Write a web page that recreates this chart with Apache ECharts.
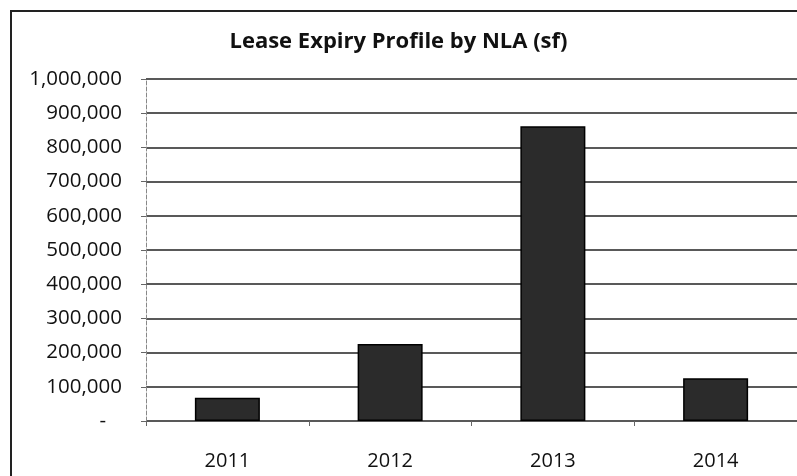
<!DOCTYPE html>
<html>
<head>
<meta charset="utf-8">
<script src="https://cdn.jsdelivr.net/npm/echarts@6/dist/echarts.min.js"></script>
<style>
  html, body { margin: 0; padding: 0; background: #fff; }
  #chart { width: 797px; height: 476px; }
</style>
</head>
<body>
<div id="chart"></div>
<script>
// 数据
const years = ['2011', '2012', '2013', '2014']
const nla = [68000, 225000, 862000, 125000]
const yTicks = [0, 100000, 200000, 300000, 400000, 500000, 600000, 700000, 800000, 900000, 1000000]

const font = '"Open Sans", "Noto Sans", sans-serif'

// 0 显示为 "-"（会计格式）
function fmt(v) {
    if (v === 0) return '-   '
    return v.toLocaleString('en-US')
}

const myChart = echarts.init(document.querySelector('#chart'))
const option = {
    backgroundColor: '#fff',
    animation: false,
    // 外框
    graphic: [{
        type: 'rect',
        shape: { x: 11, y: 11, width: 800, height: 480 },
        style: { fill: 'none', stroke: '#222', lineWidth: 2 },
        silent: true
    }],
    title: {
        text: 'Lease Expiry Profile by NLA (sf)',
        left: 'center',
        top: 26,
        textStyle: {
            fontFamily: font,
            fontWeight: 'bold',
            fontSize: 22,
            color: '#111'
        }
    },
    grid: {
        left: 146,
        right: 0,
        top: 79,
        bottom: 55
    },
    xAxis: {
        type: 'category',
        data: years,
        axisLine: { show: false },
        axisTick: {
            show: true,
            alignWithLabel: false,
            length: 5,
            lineStyle: { color: '#666' }
        },
        axisLabel: {
            margin: 30,
            fontFamily: font,
            fontSize: 20,
            color: '#111'
        }
    },
    yAxis: {
        type: 'value',
        min: 0,
        max: 1000000,
        interval: 100000,
        axisLine: {
            show: true,
            lineStyle: { color: '#888', type: 'dashed', width: 1 }
        },
        axisTick: {
            show: true,
            length: 5,
            lineStyle: { color: '#666' }
        },
        splitLine: {
            show: true,
            lineStyle: { color: '#222', width: 1.5 }
        },
        axisLabel: {
            margin: 24,
            fontFamily: font,
            fontSize: 20.5,
            color: '#111',
            formatter: v => fmt(v)
        }
    },
    series: [{
        type: 'bar',
        data: nla,
        barWidth: 65,
        itemStyle: {
            color: '#2b2b2b',
            borderColor: '#000',
            borderWidth: 1.5
        }
    }]
}
myChart.setOption(option)
</script>
</body>
</html>
